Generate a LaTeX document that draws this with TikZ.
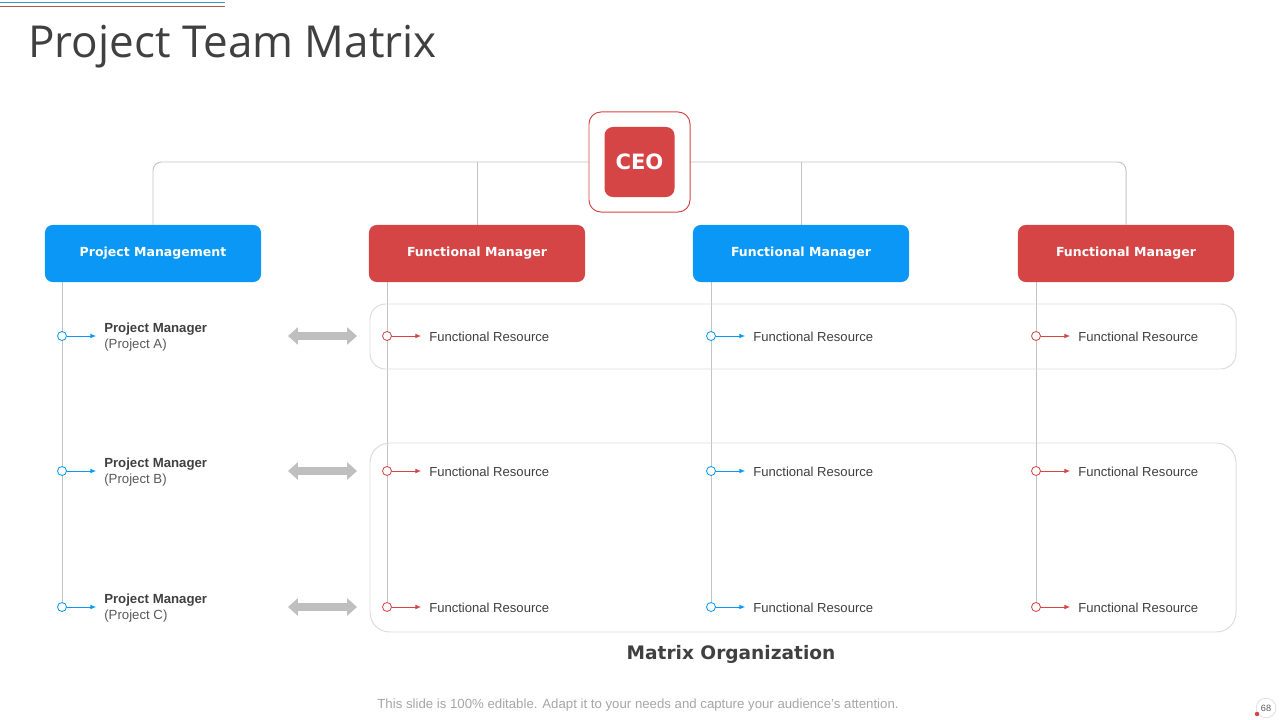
\documentclass[tikz,border=0pt]{standalone}
\usepackage{fontspec}
\setmainfont{Liberation Sans}
\newfontfamily\headfont{Open Sans}
\newfontfamily\boxfont{DejaVu Sans}
\usepackage{xcolor}
\usetikzlibrary{arrows.meta,positioning,backgrounds}

\definecolor{tblue}{HTML}{0A97F5}
\definecolor{tred}{HTML}{D64545}
\definecolor{tline}{HTML}{C4C4C4}
\definecolor{tframe}{HTML}{DCDCDC}
\definecolor{ttext}{HTML}{404040}
\definecolor{tsub}{HTML}{595959}
\definecolor{tfoot}{HTML}{A6A6A6}
\definecolor{tarrow}{HTML}{BFBFBF}

\begin{document}
\begin{tikzpicture}[
  x=0.025cm, y=-0.025cm,
  mgrbox/.style={rectangle, rounded corners=5.5pt, minimum width=5.4cm, minimum height=1.425cm,
    inner sep=0pt, text=white, font=\boxfont\bfseries\fontsize{8.9}{11}\selectfont},
  dot/.style={circle, draw, fill=white, line width=0.6pt, inner sep=0pt, minimum size=6.4pt},
  flow/.style={line width=0.7pt, -{Latex[length=4.2pt,width=3.4pt]}, shorten >=5.5pt},
  conn/.style={draw=tline, line width=0.7pt},
  rowframe/.style={draw=tframe, line width=0.7pt},
  dblarrow/.style={draw=tarrow, line width=5pt,
    {Triangle[width=12pt,length=7pt]}-{Triangle[width=12pt,length=7pt]}},
  pmtext/.style={anchor=west, inner sep=0pt, align=left, text=tsub,
    font=\fontsize{9.4}{11.4}\selectfont},
  restext/.style={anchor=west, inner sep=0pt, text=ttext, font=\fontsize{9.3}{11}\selectfont}
]
\useasboundingbox (0,0) rectangle (1280,720);

% top rules and title
\draw[line width=0.7pt, color={rgb,255:red,61;green,155;blue,199}] (0,2) -- (225,2);
\draw[line width=0.7pt, color={rgb,255:red,181;green,89;blue,63}] (0,6) -- (225,6);
\node[anchor=base west, inner sep=0pt, text=ttext, font=\headfont\fontsize{31.3}{36}\selectfont]
  (title) at (28,58) {Project Team Matrix};

% CEO
\node[rectangle, rounded corners=8.5pt, draw=tred, line width=0.7pt, fill=white,
  minimum width=2.525cm, minimum height=2.5cm] (ceo) at (639.5,162) {};
\node[rectangle, rounded corners=6pt, fill=tred, minimum width=1.75cm, minimum height=1.75cm,
  text=white, font=\boxfont\bfseries\fontsize{15}{18}\selectfont] (ceoin) at (ceo) {CEO};

% manager row
\node[mgrbox, fill=tblue] (pm) at (153,253.5) {Project Management};
\node[mgrbox, fill=tred] (fm1) at (477,253.5) {Functional Manager};
\node[mgrbox, fill=tblue] (fm2) at (801,253.5) {Functional Manager};
\node[mgrbox, fill=tred] (fm3) at (1126,253.5) {Functional Manager};

% project managers
\foreach \y/\n/\p in {336/a/A, 471/b/B, 607/c/C} {
  \node[dot, draw=tblue] (p\n) at (62,\y) {};
  \node[pmtext] (t\n) at (104,\y+1) {\textcolor{ttext}{\textbf{Project Manager}}\\(Project \p)};
  \draw[flow, tblue] (p\n) -- (t\n.west |- p\n);
  \draw[dblarrow] (288,\y) -- (357,\y);
}

% functional resources
\foreach \x/\c/\k in {387/tred/1, 711/tblue/2, 1036/tred/3} {
  \foreach \y/\r in {336/a, 471/b, 607/c} {
    \node[dot, draw=\c] (r\k\r) at (\x,\y) {};
    \node[restext] (s\k\r) at (\x+42,\y+0.5) {Functional Resource};
    \draw[flow, \c] (r\k\r) -- (s\k\r.west |- r\k\r);
  }
}

% row frames
\draw[rowframe, rounded corners=11pt] (370,304) rectangle (1236,369);
\draw[rowframe, rounded corners=14pt] (370,443) rectangle (1236,632);

\begin{scope}[on background layer]
  \draw[conn, rounded corners=6pt] (pm.north) |- (ceo.west);
  \draw[conn, rounded corners=6pt] (ceo.east) -| (fm3.north);
  \draw[conn] (fm1.north) -- (fm1.north |- ceo.west);
  \draw[conn] (fm2.north) -- (fm2.north |- ceo.west);
  \draw[conn] (pm.south -| pa) -- (pc);
  \draw[conn] (fm1.south -| r1a) -- (r1c);
  \draw[conn] (fm2.south -| r2a) -- (r2c);
  \draw[conn] (fm3.south -| r3a) -- (r3c);
\end{scope}

\node[text=ttext, font=\boxfont\bfseries\fontsize{13.2}{16}\selectfont] (caption) at (731,654) {Matrix Organization};

% footer
\node[text=tfoot, font=\fontsize{9.4}{11}\selectfont] (footer) at (638,705)
  {This slide is 100\% editable. Adapt it to your needs and capture your audience's attention.};
\node[circle, draw=tframe, line width=0.5pt, minimum size=14pt, inner sep=0pt, text=tsub,
  font=\fontsize{6.5}{7}\selectfont] (page) at (1266,708) {68};
\fill[tred] (1257,714) circle (1.6pt);
\end{tikzpicture}
\end{document}
